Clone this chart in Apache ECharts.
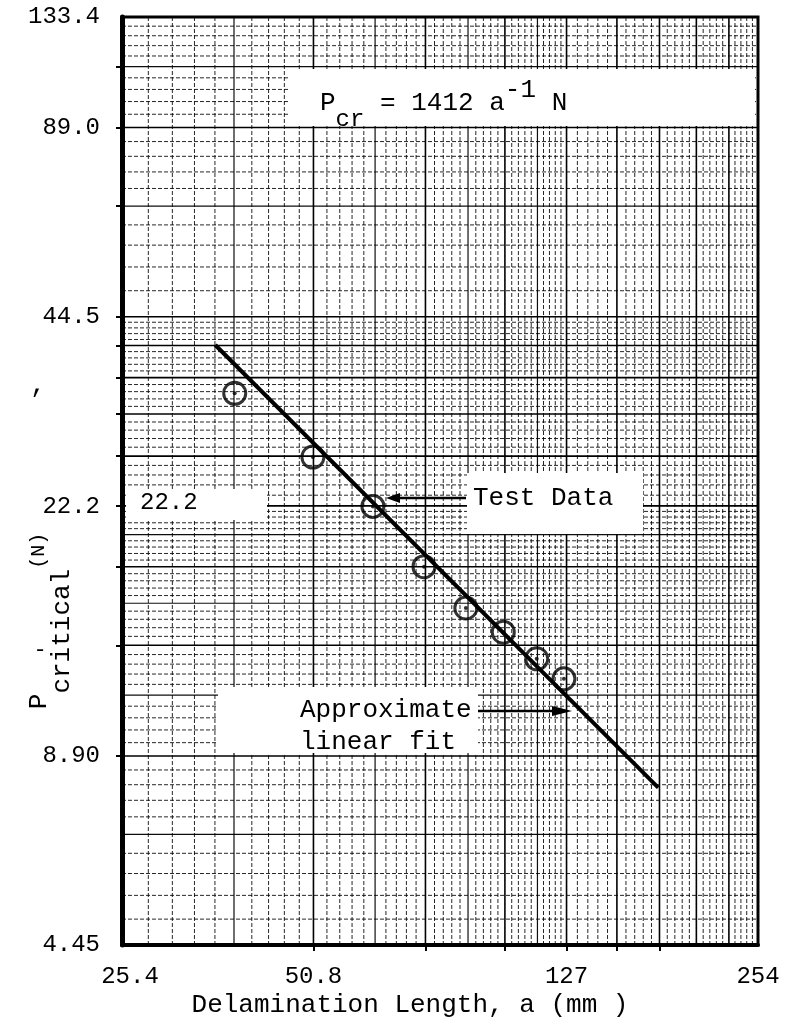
<!DOCTYPE html>
<html><head><meta charset="utf-8">
<script src="https://cdn.jsdelivr.net/npm/echarts@6/dist/echarts.min.js"></script>
<style>html,body{margin:0;padding:0;background:#fff}#c{width:794px;height:1024px}</style>
</head><body><div id="c"></div>
<script>
// ---- data ----
const delaminationLength = [38.2, 50.7, 63.0, 75.8, 88.2, 101.0, 114.0, 125.8]; // mm
const criticalLoad = [33.6, 26.6, 22.2, 17.8, 15.3, 14.0, 12.7, 11.8];           // N
const fitLength = [35.6, 177.0];   // approximate linear fit end points (mm)
const fitLoad = [40.1, 7.92];      // (N)
const xTickValues = [25.4, 50.8, 127, 254];
const xTickLabels = ['{off|25.4}', '50.8', '127', '254'];
const yTickValues = [4.45, 8.90, 22.2, 44.5, 89.0, 133.4];
const yTickLabels = ['4.45', '8.90', '22.2', '44.5', '89.0', '133.4'];
const xName = 'Delamination Length, a (mm )';
const yName = '{p|P}{s|critical}{n|(N)}';
const formulaText = '{b|P}{sub|cr}{b| = 1412 a}{sup|-1}{b| N}';

// ---- graph paper rulings (paper is printed in inches / pounds) ----
const IN = 25.4, LB = 4.448;
const X_MIN = 25.4, X_MAX = 254, Y_MIN = 4.45, Y_MAX = 133.4;
const rulings = [];
// vertical rulings: 1..5 in by 0.1, 5..10 in by 0.2
for (let k = 10; k <= 100; k += (k < 50 ? 1 : 2)) {
  const cls = k % 10 === 0 ? 0 : (k % 5 === 0 ? 1 : 2);
  const v = k / 10 * IN;
  if (v > X_MIN * 1.001 && v < X_MAX * 0.999) rulings.push([v, 20, 0, cls]);
}
// horizontal rulings: 1..5 lb by 0.1, 5..10 lb by 0.2, 10..30 lb by 1
for (let k = 10; k <= 100; k += (k < 50 ? 1 : 2)) {
  const cls = k % 10 === 0 ? 0 : (k % 5 === 0 && k < 50 ? 1 : 2);
  const v = k / 10 * LB;
  if (v > Y_MIN * 1.001 && v < Y_MAX * 0.999) rulings.push([60, v, 1, cls]);
}
for (let k = 11; k <= 30; k++) {
  const cls = k % 10 === 0 ? 0 : (k % 5 === 0 ? 1 : 2);
  const v = k * LB;
  if (v > Y_MIN * 1.001 && v < Y_MAX * 0.999) rulings.push([60, v, 1, cls]);
}
const xTickMarks = [2, 3, 4, 5, 6, 7].map(v => v * IN);
const yTickMarks = [2, 3, 4, 5, 6, 7, 8, 9, 10, 15, 20, 25].map(v => v * LB);

const rulingStyles = [
  {stroke: '#000', lineWidth: 1.6, opacity: 1},
  {stroke: '#000', lineWidth: 1.2, opacity: 0.95},
  {stroke: '#000', lineWidth: 1, opacity: 0.85, lineDash: [4, 2]}
];

const FONT = 'Liberation Mono';
function lookup(values, labels) {
  return function (v) {
    const i = values.findIndex(t => Math.abs(t - v) / t < 2e-3);
    return i >= 0 ? labels[i] : '';
  };
}

const chart = echarts.init(document.getElementById('c'), null, {renderer: 'canvas'});
const pts = delaminationLength.map((x, i) => [x, criticalLoad[i]]);
const fit = fitLength.map((x, i) => [x, fitLoad[i]]);

const option = {
  animation: false,
  backgroundColor: '#fff',
  grid: {left: 122, right: 36, top: 17, bottom: 79, show: true, borderColor: '#000', borderWidth: 3,
    containLabel: false, outerBoundsMode: 'none'},
  xAxis: {
    type: 'log', logBase: 10, min: X_MIN, max: X_MAX,
    axisLine: {show: true, onZero: false, lineStyle: {color: '#000', width: 4}},
    axisTick: {show: true, customValues: xTickMarks, length: 6, lineStyle: {color: '#000', width: 2}},
    axisLabel: {customValues: xTickValues, formatter: lookup(xTickValues, xTickLabels),
      fontFamily: FONT, fontSize: 24, color: '#000', margin: 20,
      rich: {off: {fontFamily: FONT, fontSize: 24, color: '#000', padding: [0, 0, 0, 16]}}},
    splitLine: {show: false}, minorTick: {show: false}, minorSplitLine: {show: false},
    name: xName, nameLocation: 'middle', nameGap: 47, nameMoveOverlap: false,
    nameTextStyle: {fontFamily: FONT, fontSize: 26, color: '#000', padding: [0, 60, 0, 0]}
  },
  yAxis: {
    type: 'log', logBase: 10, min: Y_MIN, max: Y_MAX,
    axisLine: {show: true, onZero: false, lineStyle: {color: '#000', width: 5}},
    axisTick: {show: true, customValues: yTickMarks, length: 6, lineStyle: {color: '#000', width: 2}},
    axisLabel: {customValues: yTickValues, formatter: lookup(yTickValues, yTickLabels),
      fontFamily: FONT, fontSize: 24, color: '#000', margin: 22},
    splitLine: {show: false}, minorTick: {show: false}, minorSplitLine: {show: false},
    name: yName, nameLocation: 'middle', nameRotate: 90, nameGap: 47, nameMoveOverlap: false,
    nameTextStyle: {
      color: '#000', padding: [0, 280, 0, 0],
      rich: {
        p: {fontFamily: FONT, fontSize: 26, color: '#000'},
        s: {fontFamily: FONT, fontSize: 26, color: '#000', padding: [46, 0, 0, 0]},
        n: {fontFamily: FONT, fontSize: 20, color: '#000'}
      }
    }
  },
  series: [
    {
      name: 'paper', type: 'custom', z: 1, silent: true, clip: false,
      data: rulings,
      renderItem: function (params, api) {
        const cs = params.coordSys;
        const p = api.coord([api.value(0), api.value(1)]);
        const st = rulingStyles[api.value(3)];
        const shape = api.value(2) === 0
          ? {x1: p[0], y1: cs.y, x2: p[0], y2: cs.y + cs.height}
          : {x1: cs.x, y1: p[1], x2: cs.x + cs.width, y2: p[1]};
        return {type: 'line', shape: shape, style: Object.assign({fill: null}, st)};
      }
    },
    {
      name: 'Approximate linear fit', type: 'line', z: 5, data: fit, symbol: 'none',
      lineStyle: {color: '#000', width: 4}
    },
    {
      name: 'Test Data', type: 'scatter', z: 6, data: pts, symbol: 'circle', symbolSize: 22,
      itemStyle: {color: 'rgba(0,0,0,0)', borderColor: '#000', borderWidth: 3}
    },
    {
      name: 'Test Data centre', type: 'scatter', z: 7, data: pts, symbol: 'circle', symbolSize: 4,
      itemStyle: {color: '#000'}
    }
  ],
  graphic: [
    // erased (white) label areas on the graph paper
    {type: 'rect', z: 3, shape: {x: 290, y: 69, width: 465, height: 57}, style: {fill: '#fff'}},
    {type: 'rect', z: 3, shape: {x: 126, y: 489, width: 141, height: 31}, style: {fill: '#fff'}},
    {type: 'rect', z: 3, shape: {x: 467, y: 473, width: 176, height: 61}, style: {fill: '#fff'}},
    {type: 'rect', z: 3, shape: {x: 218, y: 687, width: 260, height: 66}, style: {fill: '#fff'}},
    // formula
    {type: 'text', z: 10, x: 320, y: 103, style: {
      text: formulaText, align: 'left', verticalAlign: 'middle',
      fontFamily: FONT, fontSize: 26, fill: '#000',
      rich: {
        b: {fontFamily: FONT, fontSize: 26, fill: '#000', color: '#000'},
        sub: {fontFamily: FONT, fontSize: 24, fill: '#000', color: '#000', padding: [34, 0, 0, 0]},
        sup: {fontFamily: FONT, fontSize: 26, fill: '#000', color: '#000', padding: [0, 0, 26, 0]}
      }}},
    {type: 'text', z: 10, x: 140, y: 503, style: {text: '22.2', fontFamily: FONT, fontSize: 24, fill: '#000', verticalAlign: 'middle'}},
    {type: 'text', z: 10, x: 473, y: 498, style: {text: 'Test Data', fontFamily: FONT, fontSize: 26, fill: '#000', verticalAlign: 'middle'}},
    {type: 'text', z: 10, x: 300, y: 726, style: {text: 'Approximate\nlinear fit', fontFamily: FONT, fontSize: 26, lineHeight: 32, fill: '#000', verticalAlign: 'middle'}},
    // arrows
    {type: 'line', z: 10, shape: {x1: 466, y1: 498, x2: 396, y2: 498}, style: {stroke: '#000', lineWidth: 2.5}},
    {type: 'polygon', z: 10, shape: {points: [[386, 498], [400, 493], [400, 503]]}, style: {fill: '#000'}},
    {type: 'line', z: 10, shape: {x1: 478, y1: 711, x2: 558, y2: 711}, style: {stroke: '#000', lineWidth: 2.5}},
    {type: 'polygon', z: 10, shape: {points: [[572, 711], [552, 706], [552, 716]]}, style: {fill: '#000'}},
    // stray marks on the scan
    {type: 'text', z: 10, x: 38, y: 385, style: {text: ',', fontFamily: FONT, fontSize: 26, fill: '#000', align: 'center', verticalAlign: 'middle'}},
    {type: 'text', z: 10, x: 40, y: 650, style: {text: '-', fontFamily: FONT, fontSize: 22, fill: '#000', align: 'center', verticalAlign: 'middle'}}
  ]
};
chart.setOption(option);
</script></body></html>
